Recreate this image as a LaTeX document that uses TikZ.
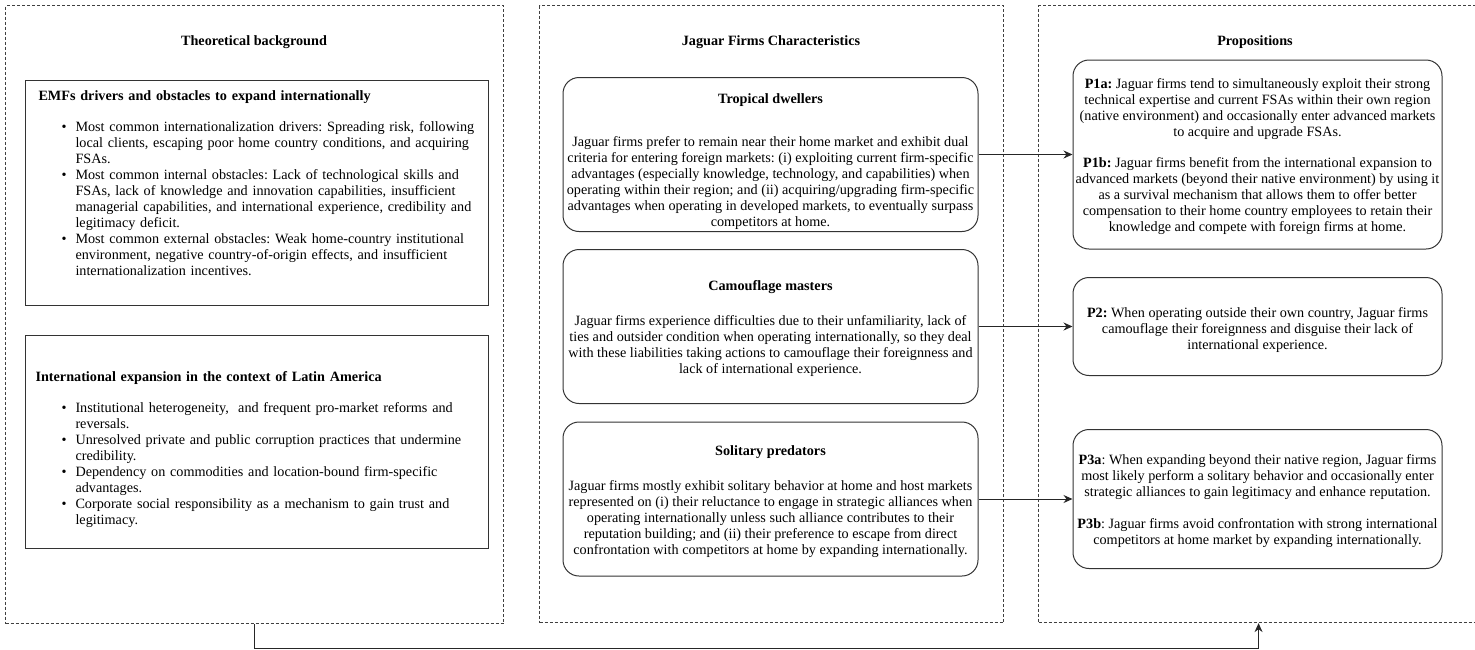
\documentclass[tikz,border=0pt]{standalone}
\usepackage{fontspec}
\setmainfont{Liberation Serif}
\usepackage{enumitem}
\usetikzlibrary{arrows.meta}

\tikzset{
  cadre/.style={draw=black!75, dash pattern=on 3pt off 2pt, line width=1.1pt, rectangle, inner sep=0pt, anchor=north west},
  boite/.style={draw=black!80, line width=1pt, rectangle, inner xsep=9pt, inner ysep=0pt, text width=445pt, align=left, anchor=north west},
  carac/.style={draw=black!80, line width=1pt, rounded corners=16pt, align=center, minimum width=415pt, minimum height=154pt, inner sep=0pt},
  propo/.style={draw=black!80, line width=1pt, rounded corners=16pt, align=center, minimum width=369pt, inner sep=0pt},
  titre/.style={font=\fontsize{14.2}{16}\selectfont\bfseries},
  fleche/.style={-{Stealth[length=9pt,width=8pt]}, line width=1pt, draw=black!85}
}
\newcommand{\puces}{\setlist[itemize]{leftmargin=41pt, rightmargin=-10pt, labelsep=9pt, itemsep=0pt, parsep=0pt, topsep=0pt, partopsep=0pt}}

\begin{document}
\begin{tikzpicture}[x=1pt, y=-1pt, every node/.style={font=\fontsize{14.2}{16}\selectfont\frenchspacing}]
		\useasboundingbox (0,0) rectangle (1475,649);
		\puces
		%Les trois cadres en pointillés
		\node[cadre, minimum width=498pt, minimum height=618pt] (TB) at (5,5) {};
		\node[cadre, minimum width=464pt, minimum height=617pt] (JF) at (539,5) {};
		\node[cadre, minimum width=440pt, minimum height=617pt] (PR) at (1038,5) {};
		
		\node[titre] (tTB) at (254,42) {Theoretical background};
		\node[titre] (tJF) at (771,42) {Jaguar Firms Characteristics};
		\node[titre] (tPR) at (1255,42) {Propositions};
		
		%Cadre de gauche
		\node[boite, minimum height=225pt] (EMF) at (25,80) {\hspace*{4pt}\textbf{EMFs drivers and obstacles to expand internationally}\par\vspace{15pt}
			\begin{itemize}
				\item Most common internationalization drivers: Spreading risk, following\newline local clients, escaping poor home country conditions, and acquiring\newline FSAs.
				\item Most common internal obstacles: Lack of technological skills and\newline FSAs, lack of knowledge and innovation capabilities, insufficient\newline managerial capabilities, and international experience, credibility and\newline legitimacy deficit.
				\item Most common external obstacles: Weak home-country institutional\newline environment, negative country-of-origin effects, and insufficient\newline internationalization incentives.
			\end{itemize}\par\noindent\rule[-3pt]{0pt}{3pt}};
		\node[boite, minimum height=213pt] (LAT) at (25,335) {\rule{0pt}{26pt}\hspace*{1pt}\textbf{International expansion in the context of Latin America}\par\vspace{15pt}
			\begin{itemize}
				\item Institutional heterogeneity,~ and frequent pro-market reforms and\newline reversals.
				\item Unresolved private and public corruption practices that undermine\newline credibility.
				\item Dependency on commodities and location-bound firm-specific\newline advantages.
				\item Corporate social responsibility as a mechanism to gain trust and\newline legitimacy.
			\end{itemize}};
		
		%Caractéristiques
		\node[carac] (TD) at (770.5,154.5) {\rule{0pt}{24pt}\textbf{Tropical dwellers}\\[27pt]
			Jaguar firms prefer to remain near their home market and exhibit dual\\
			criteria for entering foreign markets: (i) exploiting current firm-specific\\
			advantages (especially knowledge, technology, and capabilities) when\\
			operating within their region; and (ii) acquiring/upgrading firm-specific\\
			advantages when operating in developed markets, to eventually surpass\\
			competitors at home.};
		\node[carac] (CM) at (770.5,326.5) {\rule{0pt}{15pt}\textbf{Camouflage masters}\\[19pt]
			Jaguar firms experience difficulties due to their unfamiliarity, lack of\\
			ties and outsider condition when operating internationally, so they deal\\
			with these liabilities taking actions to camouflage their foreignness and\\
			lack of international experience.};
		\node[carac] (SP) at (770.5,499) {\rule{0pt}{16pt}\textbf{Solitary predators}\\[19pt]
			Jaguar firms mostly exhibit solitary behavior at home and host markets\\
			represented on (i) their reluctance to engage in strategic alliances when\\
			operating internationally unless such alliance contributes to their\\
			reputation building; and (ii) their preference to escape from direct\\
			confrontation with competitors at home by expanding internationally.};
		
		%Propositions
		\node[propo, minimum height=189pt] (P1) at (1257.5,154.5) {\rule{0pt}{14pt}\textbf{P1a:} Jaguar firms tend to simultaneously exploit their strong\\
			technical expertise and current FSAs within their own region\\
			(native environment) and occasionally enter advanced markets\\
			to acquire and upgrade FSAs.\\[15pt]
			\textbf{P1b:} Jaguar firms benefit from the international expansion to\\
			advanced markets (beyond their native environment) by using it\\
			as a survival mechanism that allows them to offer better\\
			compensation to their home country employees to retain their\\
			knowledge and compete with foreign firms at home.};
		\node[propo, minimum height=98pt] (P2) at (1257.5,326.5) {\rule{0pt}{17pt}\textbf{P2:} When operating outside their own country, Jaguar firms\\
			camouflage their foreignness and disguise their lack of\\
			international experience.};
		\node[propo, minimum height=139pt] (P3) at (1257.5,499) {\rule{0pt}{15pt}\textbf{P3a}: When expanding beyond their native region, Jaguar firms\\
			most likely perform a solitary behavior and occasionally enter\\
			strategic alliances to gain legitimacy and enhance reputation.\\[16pt]
			\textbf{P3b}: Jaguar firms avoid confrontation with strong international\\
			competitors at home market by expanding internationally.};
		
		%Flèches
		\draw[fleche] (TD.east) -- (P1.west);
		\draw[fleche] (CM.east) -- (P2.west);
		\draw[fleche] (SP.east) -- (P3.west);
		\draw[fleche] (TB.south) -- ++(0,24) -| (PR.south);
	\end{tikzpicture}
\end{document}
